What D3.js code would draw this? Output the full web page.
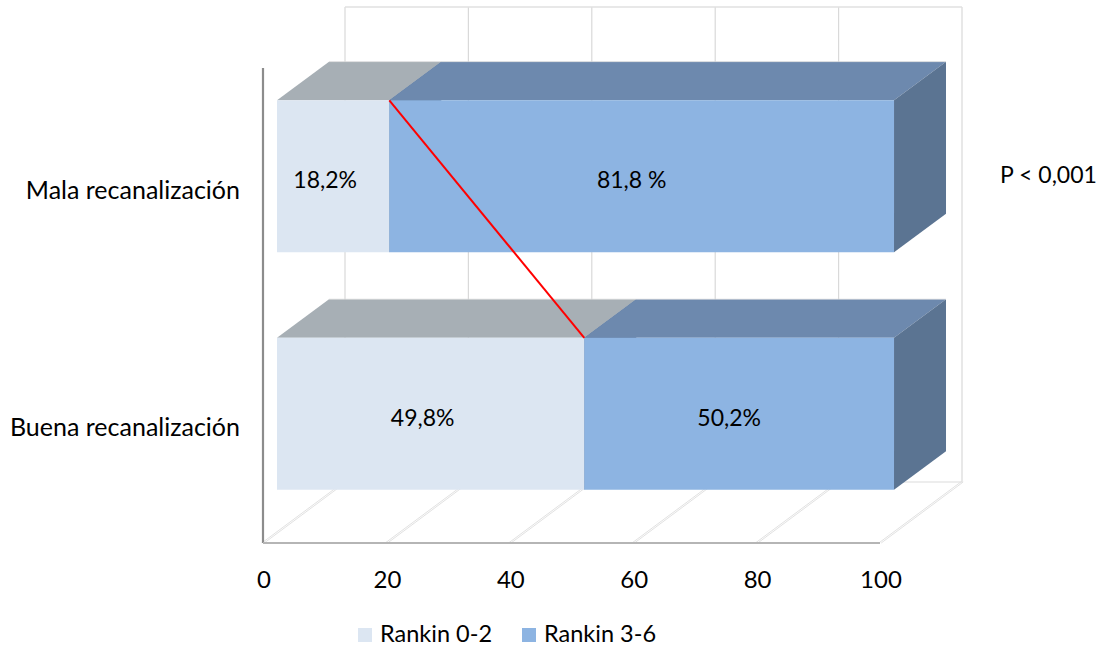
<!DOCTYPE html>
<html>
<head>
<meta charset="utf-8">
<script src="https://cdn.jsdelivr.net/npm/d3@7"></script>
<style>
  html, body { margin: 0; padding: 0; background: #fff; }
  svg { display: block; font-family: Lato, "Open Sans", sans-serif; }
</style>
</head>
<body>
<svg id="chart" width="1106" height="648"></svg>
<script>
// Outcome by recanalization quality (modified Rankin scale, %)
const categories = ["Mala recanalización", "Buena recanalización"];
const rankin02 = [18.2, 49.8];
const rankin36 = [81.8, 50.2];
const labels02 = ["18,2%", "49,8%"];
const labels36 = ["81,8 %", "50,2%"];
const seriesNames = ["Rankin 0-2", "Rankin 3-6"];
const xTicks = [0, 20, 40, 60, 80, 100];
const pValueText = "P < 0,001";

const svg = d3.select("#chart");

// Front plane of the 3D box
const x = d3.scaleLinear().domain([0, 100]).range([263, 880]);
const y = d3.scaleBand().domain(categories).range([68, 543])
  .paddingInner(0.36).paddingOuter(0.18);

// Oblique depth projection: full depth of the box
const DEPTH_X = 82, DEPTH_Y = -61;
const barFront = 0.171, barBack = 0.805; // bar position within the depth
const proj = (px, py, d) => [px + d * DEPTH_X, py + d * DEPTH_Y];

const floorY = y.range()[1], topY = y.range()[0];
const grid = svg.append("g");

// Back wall: vertical gridlines and top border
xTicks.forEach(t => {
  const [bx, by0] = proj(x(t), topY, 1);
  const [, by1] = proj(x(t), floorY, 1);
  grid.append("line").attr("x1", bx).attr("x2", bx).attr("y1", by0).attr("y2", by1)
    .attr("stroke", "#d9d9d9").attr("stroke-width", 1.2);
});
{
  const [ax, ay] = proj(x(0), topY, 1);
  const [bx] = proj(x(100), topY, 1);
  grid.append("line").attr("x1", ax).attr("x2", bx).attr("y1", ay).attr("y2", ay)
    .attr("stroke", "#e0e0e0").attr("stroke-width", 1.5);
  const [, fy] = proj(x(0), floorY, 1);
  grid.append("line").attr("x1", ax).attr("x2", bx).attr("y1", fy).attr("y2", fy)
    .attr("stroke", "#dcdcdc").attr("stroke-width", 1.2);
}

// Floor: depth gridlines drawn as thin double lines
xTicks.forEach(t => {
  const [fx, fy] = proj(x(t), floorY, 0);
  const [bx, by] = proj(x(t), floorY, 1);
  [-1.2, 1.2].forEach(o => {
    grid.append("line").attr("x1", fx + o).attr("y1", fy).attr("x2", bx + o).attr("y2", by)
      .attr("stroke", "#dedede").attr("stroke-width", 0.9);
  });
});

// Vertical axis line and floor front edge
grid.append("line").attr("x1", x(0)).attr("x2", x(0)).attr("y1", topY).attr("y2", floorY)
  .attr("stroke", "#8c8c8c").attr("stroke-width", 2.2);
grid.append("line").attr("x1", x(0)).attr("x2", x(100)).attr("y1", floorY).attr("y2", floorY)
  .attr("stroke", "#b5b5b5").attr("stroke-width", 2);

// Bars
const colors = {
  front: ["#dce6f2", "#8db4e2"],
  top: ["#a7afb5", "#6d89ae"],
  side: ["#5b7492", "#5b7492"]
};
const poly = pts => pts.map(p => p.join(",")).join(" ");
const bars = svg.append("g");

categories.forEach((cat, i) => {
  const segs = [[0, rankin02[i]], [rankin02[i], rankin02[i] + rankin36[i]]];
  const y0 = y(cat), y1 = y(cat) + y.bandwidth();
  segs.forEach(([a, b], s) => {
    const fA = proj(x(a), y0, barFront), fB = proj(x(b), y0, barFront);
    const bA = proj(x(a), y0, barBack), bB = proj(x(b), y0, barBack);
    // top face
    bars.append("polygon").attr("points", poly([fA, fB, bB, bA])).attr("fill", colors.top[s]);
    // right side face
    const fB1 = proj(x(b), y1, barFront), bB1 = proj(x(b), y1, barBack);
    bars.append("polygon").attr("points", poly([fB, bB, bB1, fB1])).attr("fill", colors.side[s]);
    // front face
    const fA1 = proj(x(a), y1, barFront);
    bars.append("polygon").attr("points", poly([fA, fB, fB1, fA1])).attr("fill", colors.front[s]);
  });
  // faint highlight along the back edge of the top face
  const e0 = proj(x(0), y0, barBack), e1 = proj(x(100), y0, barBack);
  bars.append("line").attr("x1", e0[0]).attr("x2", e1[0]).attr("y1", e0[1]).attr("y2", e1[1])
    .attr("stroke", "#dcdcdc").attr("stroke-width", 1).attr("opacity", 0.7);
});

// Value labels centred on the front faces
const labelG = svg.append("g").attr("font-size", 23).attr("fill", "#000")
  .attr("text-anchor", "middle").attr("dominant-baseline", "central");
categories.forEach((cat, i) => {
  const yc = y(cat) + y.bandwidth() / 2 + barFront * DEPTH_Y;
  const dx = barFront * DEPTH_X;
  labelG.append("text").attr("x", x(rankin02[i] / 2) + dx - 8).attr("y", yc + 3).text(labels02[i]);
  labelG.append("text").attr("x", x(rankin02[i] + rankin36[i] / 2) + dx - 10).attr("y", yc + 3).text(labels36[i]);
});

// Connector between the two category splits
{
  const p0 = proj(x(rankin02[0]), y(categories[0]), barFront);
  const p1 = proj(x(rankin02[1]), y(categories[1]), barFront);
  svg.append("line").attr("x1", p0[0]).attr("y1", p0[1]).attr("x2", p1[0]).attr("y2", p1[1])
    .attr("stroke", "#ff0000").attr("stroke-width", 2);
}

// Category labels
svg.append("g").attr("font-size", 25).attr("text-anchor", "end").attr("dominant-baseline", "central")
  .selectAll("text").data(categories).join("text")
  .attr("x", 240).attr("y", d => y(d) + y.bandwidth() / 2 + 2)
  .text(d => d);

// X axis tick labels
svg.append("g").attr("font-size", 24).attr("text-anchor", "middle").attr("dominant-baseline", "central")
  .selectAll("text").data(xTicks).join("text")
  .attr("x", d => x(d) + 1).attr("y", 578)
  .text(d => d);

// p-value annotation
svg.append("text").attr("x", 1000).attr("y", 174).attr("font-size", 23)
  .attr("dominant-baseline", "central").text(pValueText);

// Legend
const legend = svg.append("g").attr("font-size", 23.5);
const legendX = [358, 522];
seriesNames.forEach((n, s) => {
  legend.append("rect").attr("x", legendX[s]).attr("y", 628).attr("width", 14).attr("height", 14)
    .attr("fill", colors.front[s]);
  legend.append("text").attr("x", legendX[s] + 22).attr("y", 642)
    .text(n);
});
</script>
</body>
</html>
